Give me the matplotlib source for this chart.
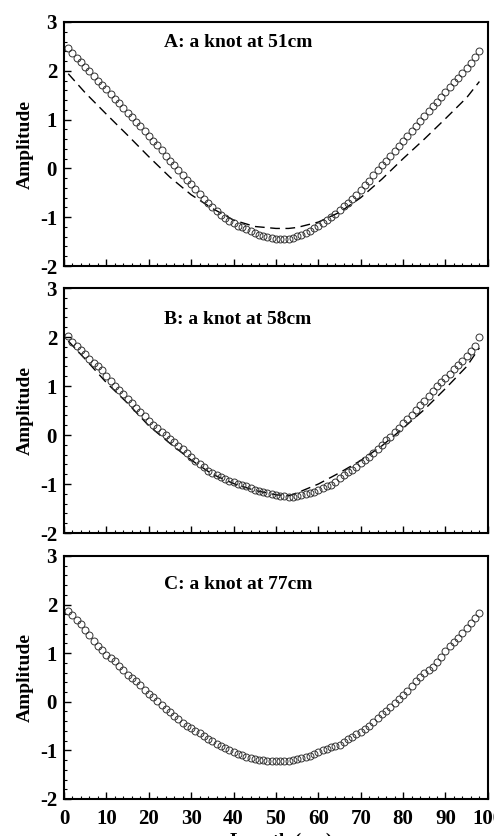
import matplotlib
matplotlib.use("Agg")
import matplotlib.pyplot as plt
from matplotlib.ticker import MultipleLocator

plt.rcParams['font.family'] = ['Liberation Serif', 'DejaVu Serif']
plt.rcParams['font.weight'] = 'bold'
plt.rcParams['axes.unicode_minus'] = False

# positions along the string (cm)
length = list(range(1, 99))

# A: a knot at 51cm (measured, circles)
ampA = [2.46, 2.37, 2.27, 2.18, 2.08, 1.99, 1.89, 1.80, 1.71, 1.62,
        1.52, 1.43, 1.33, 1.24, 1.14, 1.05, 0.95, 0.86, 0.76, 0.67,
        0.57, 0.47, 0.37, 0.26, 0.16, 0.06, -0.04, -0.14, -0.23, -0.32,
        -0.42, -0.52, -0.62, -0.71, -0.80, -0.88, -0.95, -1.02, -1.07, -1.12,
        -1.17, -1.21, -1.25, -1.29, -1.33, -1.36, -1.39, -1.41, -1.43, -1.44,
        -1.45, -1.45, -1.44, -1.42, -1.39, -1.36, -1.32, -1.28, -1.23, -1.17,
        -1.11, -1.05, -0.99, -0.93, -0.86, -0.78, -0.70, -0.62, -0.54, -0.45,
        -0.35, -0.25, -0.14, -0.04, 0.06, 0.16, 0.26, 0.36, 0.46, 0.56,
        0.66, 0.76, 0.86, 0.97, 1.07, 1.17, 1.27, 1.37, 1.47, 1.57,
        1.67, 1.77, 1.86, 1.96, 2.06, 2.16, 2.28, 2.40]

# B: a knot at 58cm
ampB = [2.02, 1.90, 1.81, 1.74, 1.65, 1.56, 1.48, 1.40, 1.32, 1.20,
        1.10, 1.00, 0.91, 0.83, 0.74, 0.65, 0.56, 0.47, 0.38, 0.29,
        0.21, 0.14, 0.07, 0.00, -0.08, -0.15, -0.22, -0.29, -0.37, -0.45,
        -0.52, -0.59, -0.66, -0.73, -0.78, -0.82, -0.86, -0.90, -0.93, -0.96,
        -0.99, -1.02, -1.05, -1.08, -1.12, -1.15, -1.17, -1.19, -1.21, -1.23,
        -1.24, -1.25, -1.26, -1.26, -1.24, -1.22, -1.20, -1.18, -1.16, -1.13,
        -1.09, -1.05, -1.01, -0.95, -0.88, -0.82, -0.76, -0.71, -0.65, -0.58,
        -0.51, -0.45, -0.37, -0.28, -0.20, -0.11, -0.03, 0.06, 0.15, 0.24,
        0.32, 0.41, 0.51, 0.61, 0.70, 0.80, 0.90, 1.00, 1.09, 1.17,
        1.25, 1.34, 1.43, 1.51, 1.61, 1.71, 1.82, 2.00]

# C: a knot at 77cm
ampC = [1.86, 1.78, 1.68, 1.59, 1.48, 1.37, 1.25, 1.15, 1.06, 0.97,
        0.90, 0.83, 0.74, 0.65, 0.56, 0.49, 0.42, 0.34, 0.25, 0.16,
        0.09, 0.01, -0.07, -0.14, -0.22, -0.29, -0.36, -0.43, -0.49, -0.55,
        -0.60, -0.65, -0.70, -0.76, -0.81, -0.86, -0.91, -0.95, -0.99, -1.03,
        -1.07, -1.10, -1.13, -1.15, -1.17, -1.19, -1.20, -1.21, -1.22, -1.22,
        -1.22, -1.22, -1.21, -1.19, -1.17, -1.15, -1.13, -1.11, -1.07, -1.03,
        -1.00, -0.97, -0.93, -0.91, -0.88, -0.83, -0.77, -0.72, -0.67, -0.62,
        -0.56, -0.49, -0.41, -0.34, -0.26, -0.19, -0.11, -0.03, 0.06, 0.14,
        0.23, 0.32, 0.42, 0.51, 0.60, 0.66, 0.72, 0.82, 0.93, 1.05,
        1.14, 1.23, 1.32, 1.42, 1.52, 1.62, 1.72, 1.83]

# dashed curves (panels A and B)
dashX = [1, 5, 10, 15, 20, 25, 30, 35, 40, 45, 50, 53, 55, 60, 65, 70, 75, 80, 85, 90, 95, 98]
dashA = [1.94, 1.55, 1.11, 0.68, 0.24, -0.18, -0.54, -0.82, -1.06, -1.19, -1.23, -1.23, -1.21,
         -1.10, -0.90, -0.60, -0.22, 0.20, 0.60, 1.02, 1.45, 1.78]
dashB = [1.92, 1.55, 1.07, 0.65, 0.19, -0.17, -0.51, -0.80, -0.99, -1.13, -1.22, -1.24, -1.18,
         -1.00, -0.77, -0.52, -0.22, 0.14, 0.52, 0.95, 1.40, 1.78]

titles = ['A: a knot at 51cm', 'B: a knot at 58cm', 'C: a knot at 77cm']
title_y = [2.57, 2.35, 2.41]

fig = plt.figure(figsize=(4.94, 8.36), dpi=100)
boxes = [[0.1296, 0.6818, 0.858, 0.2919],
         [0.1296, 0.3624, 0.858, 0.2930],
         [0.1296, 0.0443, 0.858, 0.2907]]
amps = [ampA, ampB, ampC]
dashes = [dashA, dashB, None]

for i in range(3):
    ax = fig.add_axes(boxes[i])
    if dashes[i] is not None:
        ax.plot(dashX, dashes[i], color='black', lw=1.0, dashes=(7, 4))
    ax.plot(length, amps[i], 'o', mfc='none', mec='#333333', ms=5, mew=0.7)
    ax.set_xlim(0, 100)
    ax.set_ylim(-2, 3)
    ax.xaxis.set_major_locator(MultipleLocator(10))
    ax.xaxis.set_minor_locator(MultipleLocator(2))
    ax.yaxis.set_major_locator(MultipleLocator(1))
    ax.yaxis.set_minor_locator(MultipleLocator(0.2))
    ax.tick_params(which='major', direction='in', length=5, width=1, labelsize=15)
    ax.tick_params(which='minor', direction='in', length=2.5, width=0.8)
    ax.tick_params(axis='y', pad=5)
    ax.tick_params(axis='x', pad=7)
    for s in ax.spines.values():
        s.set_linewidth(1.5)
    ax.set_ylabel('Amplitude', fontsize=14, fontweight='bold', labelpad=4)
    ax.text(41, title_y[i], titles[i], ha='center', va='center', fontsize=14, fontweight='bold')
    if i < 2:
        ax.set_xticklabels([])

fig.text(0.57, 0.004, 'Length (cm)', ha='center', va='top', fontsize=14, fontweight='bold')

plt.savefig('out.png', dpi=100)
